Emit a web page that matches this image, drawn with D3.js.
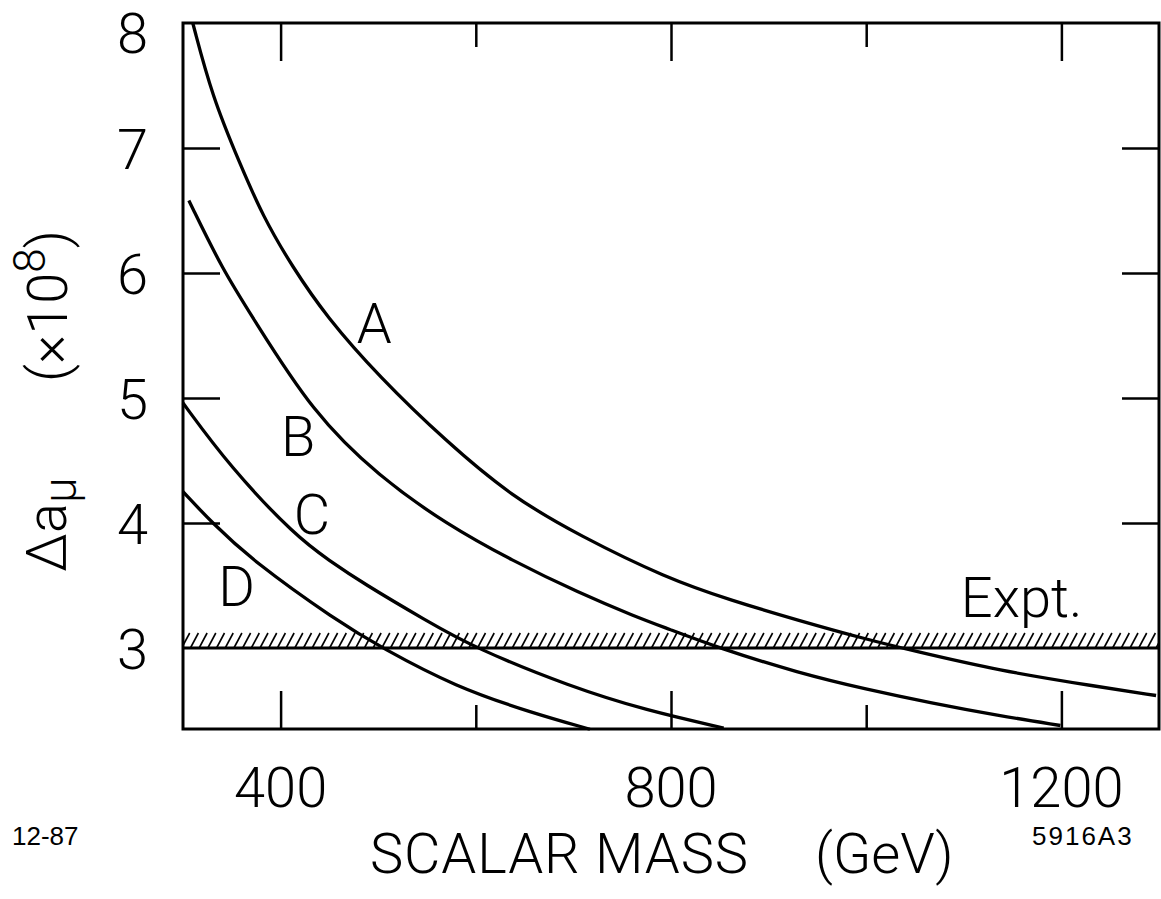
<!DOCTYPE html>
<html>
<head>
<meta charset="utf-8">
<script src="https://cdn.jsdelivr.net/npm/d3@7"></script>
<style>
  body { margin: 0; background: #fff; }
  svg { display: block; }
  .lbl { font-family: Roboto, "Liberation Sans", sans-serif; font-weight: 300; fill: #000; }
  .small { font-family: "Liberation Sans", Arial, sans-serif; fill: #000; }
</style>
</head>
<body>
<div id="chart"></div>
<script>
// Scalar mass vs Delta a_mu, curves A-D and the experimental band

// Axis values
const massMajor = [400, 800, 1200];
const massMinor = [600, 1000];
const valueTicks = [3, 4, 5, 6, 7, 8];

// Curve A
const massA = [310, 330, 358, 382, 412, 447, 501, 570, 637, 706, 795, 862, 931, 1000, 1047, 1135, 1238, 1297];
const valA  = [8.0, 7.41, 6.88, 6.45, 6.05, 5.65, 5.17, 4.65, 4.21, 3.90, 3.56, 3.38, 3.22, 3.07, 2.98, 2.82, 2.69, 2.62];
// Curve B
const massB = [306, 341, 371, 433, 501, 570, 637, 706, 764, 795, 849, 931, 1000, 1067, 1135, 1199];
const valB  = [6.58, 6.02, 5.65, 4.88, 4.37, 3.99, 3.70, 3.44, 3.25, 3.16, 3.0, 2.80, 2.67, 2.56, 2.46, 2.38];
// Curve C
const massC = [300, 348, 416, 450, 484, 549, 599, 697, 775, 854];
const valC  = [4.96, 4.45, 3.89, 3.70, 3.52, 3.22, 3.0, 2.69, 2.50, 2.36];
// Curve D
const massD = [300, 330, 371, 457, 504, 579, 658, 717];
const valD  = [4.25, 4.0, 3.70, 3.22, 3.0, 2.69, 2.48, 2.35];

// Curve labels
const curveNames = ["A", "B", "C", "D"];
const labelMass = [496, 418, 432, 355];
const labelVal = [5.6, 4.70, 4.07, 3.50];

// Experimental band
const exptLow = 3.0, exptHigh = 3.12;

const W = 1161, H = 899;
const svg = d3.select("#chart").append("svg")
    .attr("width", W)
    .attr("height", H);

const x = d3.scaleLinear().domain([300, 1300]).range([183, 1159]);
const y = d3.scaleLinear().domain([2.352, 8]).range([729, 23]);

const [x0, x1] = x.range();
const [yb, yt] = y.range();

// Hatched band
svg.append("clipPath").attr("id", "plotclip")
    .append("rect").attr("x", x0).attr("y", yt).attr("width", x1 - x0).attr("height", yb - yt);

const hatch = svg.append("g").attr("clip-path", "url(#plotclip)");
const step = 8.7;
hatch.selectAll("line")
    .data(d3.range(x0 - 10, x1 + 10, step))
    .enter()
    .append("line")
    .attr("x1", d => d)
    .attr("y1", y(exptLow))
    .attr("x2", d => d + 8)
    .attr("y2", y(exptHigh))
    .attr("stroke", "#000")
    .attr("stroke-width", 1.6);

svg.append("line")
    .attr("x1", x0).attr("x2", x1)
    .attr("y1", y(exptLow)).attr("y2", y(exptLow))
    .attr("stroke", "#000").attr("stroke-width", 3.2);

// Ticks (pointing inward)
function styleTicks(g) {
    g.select(".domain").remove();
    g.selectAll("line").attr("stroke", "#000").attr("stroke-width", 2.5);
}
svg.append("g").attr("transform", `translate(0,${yb})`)
    .call(d3.axisBottom(x).tickValues(massMajor).tickSize(-38).tickFormat("")).call(styleTicks);
svg.append("g").attr("transform", `translate(0,${yb})`)
    .call(d3.axisBottom(x).tickValues(massMinor).tickSize(-24).tickFormat("")).call(styleTicks);
svg.append("g").attr("transform", `translate(0,${yt})`)
    .call(d3.axisTop(x).tickValues(massMajor).tickSize(-38).tickFormat("")).call(styleTicks);
svg.append("g").attr("transform", `translate(0,${yt})`)
    .call(d3.axisTop(x).tickValues(massMinor).tickSize(-24).tickFormat("")).call(styleTicks);
svg.append("g").attr("transform", `translate(${x0},0)`)
    .call(d3.axisLeft(y).tickValues([4, 5, 6, 7]).tickSize(-37).tickFormat("")).call(styleTicks);
svg.append("g").attr("transform", `translate(${x1},0)`)
    .call(d3.axisRight(y).tickValues([4, 5, 6, 7]).tickSize(-37).tickFormat("")).call(styleTicks);

// Frame
svg.append("rect")
    .attr("x", x0).attr("y", yt)
    .attr("width", x1 - x0).attr("height", yb - yt)
    .attr("fill", "none").attr("stroke", "#000").attr("stroke-width", 3);

// Curves
const line = d3.line()
    .x(d => x(d[0]))
    .y(d => y(d[1]))
    .curve(d3.curveBasis);

const curves = [
    d3.zip(massA, valA),
    d3.zip(massB, valB),
    d3.zip(massC, valC),
    d3.zip(massD, valD)
];
svg.append("g").selectAll("path")
    .data(curves)
    .enter()
    .append("path")
    .attr("d", line)
    .attr("fill", "none")
    .attr("stroke", "#000")
    .attr("stroke-width", 3.3);

// Curve labels
svg.append("g").selectAll("text")
    .data(curveNames)
    .enter()
    .append("text")
    .attr("class", "lbl")
    .attr("x", (d, i) => x(labelMass[i]))
    .attr("y", (d, i) => y(labelVal[i]))
    .attr("dy", "0.36em")
    .attr("text-anchor", "middle")
    .attr("font-size", 56)
    .text(d => d);

svg.append("text")
    .attr("class", "lbl")
    .attr("x", x(1097)).attr("y", y(3.25))
    .attr("font-size", 56)
    .text("Expt.");

// Tick labels
svg.append("g").selectAll("text")
    .data(massMajor)
    .enter()
    .append("text")
    .attr("class", "lbl")
    .attr("x", d => x(d))
    .attr("y", 807)
    .attr("text-anchor", "middle")
    .attr("font-size", 56)
    .text(d => d);

svg.append("g").selectAll("text")
    .data(valueTicks)
    .enter()
    .append("text")
    .attr("class", "lbl")
    .attr("x", x0 - 35)
    .attr("y", d => y(d))
    .attr("dy", d => d === 8 ? "0.54em" : "0.38em")
    .attr("text-anchor", "end")
    .attr("font-size", 56)
    .text(d => d);

// Axis titles
svg.append("text").attr("class", "lbl")
    .attr("x", 370).attr("y", 873)
    .attr("font-size", 56)
    .attr("textLength", 378)
    .text("SCALAR MASS");
svg.append("text").attr("class", "lbl")
    .attr("x", 815).attr("y", 873)
    .attr("font-size", 56)
    .text("(GeV)");

const yl1 = svg.append("text").attr("class", "lbl")
    .attr("transform", "translate(66,572) rotate(-90)")
    .attr("font-size", 56);
yl1.append("tspan").text("\u0394a");
yl1.append("tspan").attr("font-size", 46).attr("dy", 10).text("\u03bc");

const yl2 = svg.append("text").attr("class", "lbl")
    .attr("transform", "translate(67,382) rotate(-90)")
    .attr("font-size", 56);
yl2.append("tspan").text("(\u00d710");
yl2.append("tspan").attr("font-size", 44).attr("dy", -22).text("8");
yl2.append("tspan").attr("dy", 22).text(")");

// Figure codes
svg.append("text").attr("class", "small")
    .attr("x", 12).attr("y", 845)
    .attr("font-size", 26)
    .text("12-87");
svg.append("text").attr("class", "small")
    .attr("x", 1032).attr("y", 845)
    .attr("font-size", 26)
    .attr("letter-spacing", 2)
    .text("5916A3");
</script>
</body>
</html>
